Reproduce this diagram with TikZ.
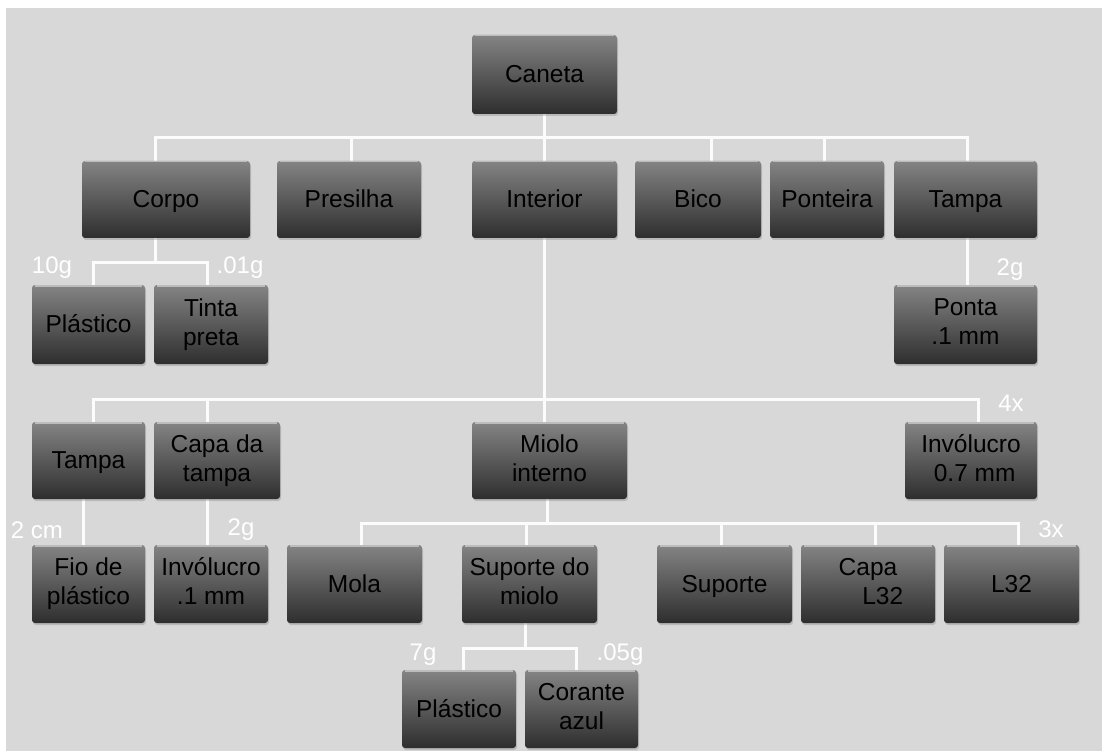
\documentclass[tikz,border=0pt]{standalone}
\usepackage{fontspec}
\setmainfont{Liberation Sans}
\usetikzlibrary{shadows}
\definecolor{bg}{RGB}{216,216,216}
\definecolor{boxtop}{RGB}{132,132,132}
\definecolor{boxbot}{RGB}{46,46,46}
\definecolor{rim}{RGB}{188,188,188}
\definecolor{wirecol}{RGB}{252,252,252}
\pgfdeclarelayer{back}
\pgfdeclarelayer{links}
\pgfsetlayers{back,links,main}
\begin{document}
\begin{tikzpicture}[x=1pt,y=-1pt,
  box/.style={rectangle, rounded corners=3pt, inner sep=0pt, align=center,
    top color=boxtop, bottom color=boxbot, text=black,
    font=\fontsize{24.5}{29}\selectfont,
    execute at begin node=\rule{0pt}{0.9em},
    execute at end node=\vphantom{p},
    drop shadow={shadow xshift=1pt, shadow yshift=-2pt, opacity=0.35},
    path picture={\draw[rim, line width=1.4pt]
      ([xshift=3pt,yshift=-0.8pt]path picture bounding box.north west) --
      ([xshift=-3pt,yshift=-0.8pt]path picture bounding box.north east);}},
  wire/.style={draw=wirecol, line width=3pt},
  qty/.style={text=white, font=\fontsize{24}{28}\selectfont, inner sep=0pt}]

% page and background
\useasboundingbox (0,0) rectangle (1102,751);
\begin{pgfonlayer}{back}
  \fill[white] (0,0) rectangle (1102,751);
  \fill[bg] (6,8) rectangle (1102,751);
\end{pgfonlayer}

% level 0
\node[box, minimum width=145pt, minimum height=79pt] (caneta) at (544.5,74.5) {Caneta};

% level 1
\node[box, minimum width=168pt, minimum height=77pt] (corpo)    at (166,199.5)   {Corpo};
\node[box, minimum width=144pt, minimum height=77pt] (presilha) at (349,199.5)   {Presilha};
\node[box, minimum width=145pt, minimum height=77pt] (interior) at (544.5,199.5) {Interior};
\node[box, minimum width=126pt, minimum height=77pt] (bico)     at (698,199.5)   {Bico};
\node[box, minimum width=114pt, minimum height=77pt] (ponteira) at (827,199.5)   {Ponteira};
\node[box, minimum width=143pt, minimum height=77pt] (tampa)    at (965.5,199.5) {Tampa};

% parts of Corpo and Tampa
\node[box, minimum width=113pt, minimum height=79pt] (plasticoA) at (88.5,324.5)  {Plástico};
\node[box, minimum width=114pt, minimum height=79pt] (tinta)     at (211,324.5)   {Tinta\\preta};
\node[box, minimum width=143pt, minimum height=79pt] (ponta)     at (965.5,324.5) {Ponta\\.1 mm};

% parts of Interior
\node[box, minimum width=113pt, minimum height=77pt] (tampaB)     at (88.5,460.5)  {Tampa};
\node[box, minimum width=126pt, minimum height=77pt] (capa)       at (217,460.5)   {Capa da\\tampa};
\node[box, minimum width=155pt, minimum height=77pt] (miolo)      at (549.5,460.5) {Miolo\\interno};
\node[box, minimum width=132pt, minimum height=77pt] (involucroA) at (971,460.5)   {Invólucro\\\hspace*{0.3em}0.7 mm};

% level 4
\node[box, minimum width=113pt, minimum height=78pt] (fio)        at (88.5,584)   {Fio de\\plástico};
\node[box, minimum width=114pt, minimum height=78pt] (involucroB) at (211,584)    {Invólucro\\.1 mm};
\node[box, minimum width=135pt, minimum height=78pt] (mola)       at (354.5,584)  {Mola};
\node[box, minimum width=135pt, minimum height=78pt] (supmiolo)   at (529.5,584)  {Suporte do\\miolo};
\node[box, minimum width=135pt, minimum height=78pt] (suporte)    at (724.5,584)  {Suporte};
\node[box, minimum width=134pt, minimum height=78pt] (capaL)      at (868,584)    {Capa\\\hspace*{1.2em}L32};
\node[box, minimum width=135pt, minimum height=78pt] (lL)         at (1011.5,584) {L32};

% parts of Suporte do miolo
\node[box, minimum width=114pt, minimum height=78pt] (plasticoB) at (459,709)   {Plástico};
\node[box, minimum width=113pt, minimum height=78pt] (corante)   at (581.5,709) {Corante\\azul};

% quantities
\node[qty] (q1) at (52,268)   {10g};
\node[qty] (q2) at (240,268)  {.01g};
\node[qty] (q3) at (1010,270) {2g};
\node[qty] (q4) at (1011,403) {4x};
\node[qty] (q5) at (37,530)   {2 cm};
\node[qty] (q6) at (241,530)  {2g};
\node[qty] (q7) at (1051,529) {3x};
\node[qty] (q8) at (423,655)  {7g};
\node[qty] (q9) at (620,655)  {.05g};

% connectors
\begin{pgfonlayer}{links}
  % Caneta
  \coordinate (b1) at (546,138);
  \path ([xshift=-11pt]corpo.north)   coordinate (corpoUp)
        ([xshift=2pt]presilha.north)  coordinate (presilhaUp)
        ([xshift=13pt]bico.north)     coordinate (bicoUp)
        ([xshift=-3pt]ponteira.north) coordinate (ponteiraUp)
        ([xshift=1.5pt]tampa.north)   coordinate (tampaUp);
  \draw[wire] (caneta.south) -- (caneta.south |- b1);
  \draw[wire] (corpoUp) |- (b1) -| (tampaUp);
  \draw[wire] (presilhaUp) -- (presilhaUp |- b1);
  \draw[wire] (interior.north) -- (interior.north |- b1);
  \draw[wire] (bicoUp) -- (bicoUp |- b1);
  \draw[wire] (ponteiraUp) -- (ponteiraUp |- b1);

  % Corpo
  \coordinate (b2) at (155,262);
  \draw[wire] ([xshift=-11pt]corpo.south) -- (b2);
  \draw[wire] ([xshift=4.5pt]plasticoA.north) |- (b2) -| ([xshift=-4pt]tinta.north);

  % Tampa
  \draw[wire] ([xshift=1.5pt]tampa.south) -- ([xshift=1.5pt]ponta.north);

  % Interior
  \coordinate (b3) at (546,399);
  \draw[wire] (interior.south) -- (interior.south |- miolo.north);
  \draw[wire] ([xshift=4.5pt]tampaB.north) |- (b3) -| ([xshift=7pt]involucroA.north);
  \draw[wire] ([xshift=-10pt]capa.north) -- ([xshift=-10pt]capa.north |- b3);

  % Tampa and Capa da tampa
  \draw[wire] ([xshift=-5.5pt]tampaB.south) -- ([xshift=-5.5pt]fio.north);
  \draw[wire] ([xshift=-10pt]capa.south) -- ([xshift=-10pt]capa.south |- involucroB.north);

  % Miolo interno
  \coordinate (b4) at (547,523);
  \draw[wire] ([xshift=-2.5pt]miolo.south) -- ([xshift=-2.5pt]miolo.south |- b4);
  \draw[wire] ([xshift=6.5pt]mola.north) |- (b4) -| ([xshift=6.5pt]lL.north);
  \draw[wire] ([xshift=-3.5pt]supmiolo.north) -- ([xshift=-3.5pt]supmiolo.north |- b4);
  \draw[wire] ([xshift=-3.5pt]suporte.north) -- ([xshift=-3.5pt]suporte.north |- b4);
  \draw[wire] ([xshift=7pt]capaL.north) -- ([xshift=7pt]capaL.north |- b4);

  % Suporte do miolo
  \coordinate (b5) at (525,648);
  \draw[wire] ([xshift=-4.5pt]supmiolo.south) -- (b5);
  \draw[wire] ([xshift=4pt]plasticoB.north) |- (b5) -| ([xshift=-5.5pt]corante.north);
\end{pgfonlayer}
\end{tikzpicture}
\end{document}
